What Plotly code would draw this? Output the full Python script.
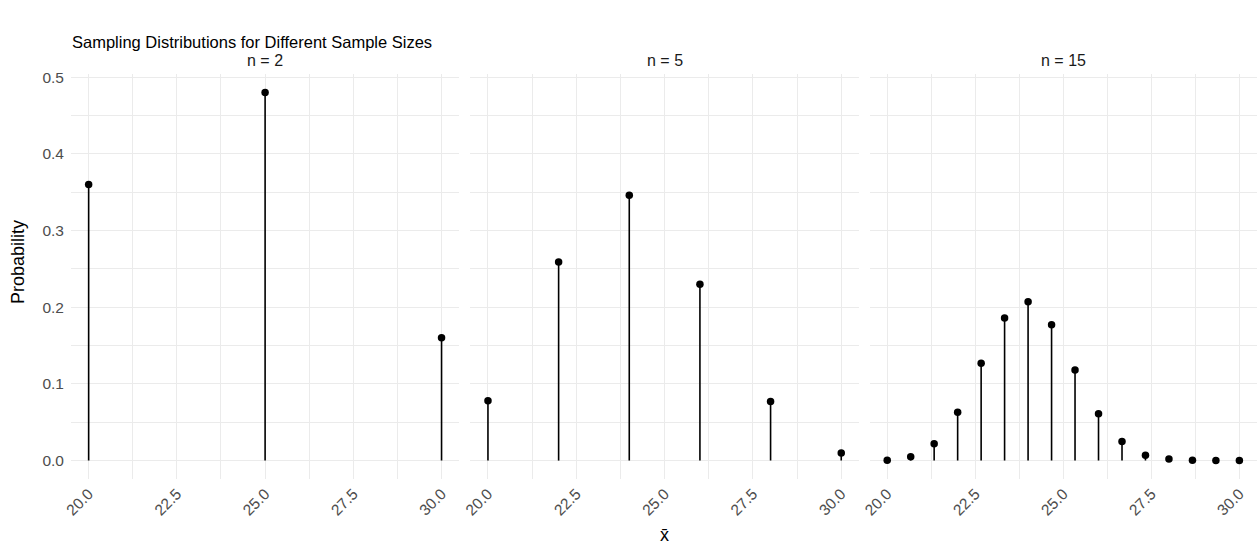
import plotly.graph_objects as go

# ---- data ----
panel_titles = ["n = 2", "n = 5", "n = 15"]

x_n2 = [20.0, 25.0, 30.0]
p_n2 = [0.36, 0.48, 0.16]

x_n5 = [20.0, 22.0, 24.0, 26.0, 28.0, 30.0]
p_n5 = [0.078, 0.259, 0.346, 0.230, 0.077, 0.010]

x_n15 = [20.0, 20.667, 21.333, 22.0, 22.667, 23.333, 24.0, 24.667,
         25.333, 26.0, 26.667, 27.333, 28.0, 28.667, 29.333, 30.0]
p_n15 = [0.0005, 0.005, 0.022, 0.063, 0.127, 0.186, 0.207, 0.177,
         0.118, 0.061, 0.025, 0.007, 0.002, 0.0003, 0.0000, 0.0000]

x_ticks = [20.0, 22.5, 25.0, 27.5, 30.0]
y_ticks = [0.0, 0.1, 0.2, 0.3, 0.4, 0.5]

series = [(x_n2, p_n2), (x_n5, p_n5), (x_n15, p_n15)]

# ---- layout geometry ----
W, H = 1257, 550
L, R, T, B = 71, 0, 74, 71
pw = W - L - R
ph = H - T - B
domains = [
    [0.0, 388.2 / pw],
    [(470.3 - L) / pw, (858.9 - L) / pw],
    [(869.6 - L) / pw, 1.0],
]

FONT = "Liberation Sans, Arial, sans-serif"
fig = go.Figure()
grid = "#ebebeb"
tickfont = dict(family=FONT, size=15.5, color="#4d4d4d")

for i, (xs, ps) in enumerate(series):
    ax = "" if i == 0 else str(i + 1)
    seg_x, seg_y = [], []
    for x, p in zip(xs, ps):
        seg_x += [x, x, None]
        seg_y += [0, p, None]
    fig.add_trace(go.Scatter(x=seg_x, y=seg_y, mode="lines",
                             line=dict(color="black", width=1.6),
                             xaxis="x" + ax, yaxis="y" + ax,
                             showlegend=False, hoverinfo="skip"))
    fig.add_trace(go.Scatter(x=xs, y=ps, mode="markers",
                             marker=dict(color="black", size=7.5),
                             xaxis="x" + ax, yaxis="y" + ax,
                             showlegend=False))
    xa = dict(domain=domains[i], range=[19.5, 30.5], tickvals=x_ticks,
              ticktext=[f"{v:.1f}" for v in x_ticks], tickangle=-45,
              showgrid=True, gridcolor=grid, gridwidth=1.1, zeroline=False,
              showline=False, ticks="", tickfont=tickfont,
              ticklabelstandoff=2,
              minor=dict(tickvals=[21.25, 23.75, 26.25, 28.75],
                         showgrid=True, gridcolor=grid, gridwidth=0.6),
              anchor="y" + ax)
    ya = dict(domain=[0, 1], range=[-0.024, 0.504], tickvals=y_ticks,
              ticktext=[f"{v:.1f}" for v in y_ticks],
              showticklabels=(i == 0),
              showgrid=True, gridcolor=grid, gridwidth=1.1, zeroline=False,
              showline=False, ticks="", tickfont=tickfont,
              ticklabelstandoff=6,
              minor=dict(tickvals=[0.05, 0.15, 0.25, 0.35, 0.45],
                         showgrid=True, gridcolor=grid, gridwidth=0.6),
              anchor="x" + ax)
    if i > 0:
        ya["matches"] = "y"
    fig.update_layout(**{"xaxis" + ax: xa, "yaxis" + ax: ya})
    fig.add_annotation(text=panel_titles[i], xref="paper", yref="paper",
                       x=(domains[i][0] + domains[i][1]) / 2, xanchor="center",
                       y=1 + (74 - 60) / ph, yanchor="middle",
                       showarrow=False,
                       font=dict(family=FONT, size=16, color="#1a1a1a"))

axis_title_font = dict(family=FONT, size=18, color="black")
fig.add_annotation(text="Probability", xref="paper", yref="paper",
                   x=-(71 - 18) / pw, xanchor="center",
                   y=1 - (262 - T) / ph, yanchor="middle",
                   textangle=-90, showarrow=False, font=axis_title_font)
fig.add_annotation(text="x\u0304", xref="paper", yref="paper",
                   x=0.5, xanchor="center", y=-(535 - (H - B)) / ph, yanchor="middle",
                   showarrow=False, font=axis_title_font)

fig.update_layout(
    width=W, height=H,
    margin=dict(l=L, r=R, t=T, b=B),
    paper_bgcolor="white", plot_bgcolor="white",
    title=dict(text="Sampling Distributions for Different Sample Sizes",
               x=72 / W, xanchor="left", xref="container",
               y=1 - 42 / H, yanchor="middle", yref="container",
               font=dict(family=FONT, size=16.5, color="black")),
    showlegend=False,
)

fig.write_html("out.html")
